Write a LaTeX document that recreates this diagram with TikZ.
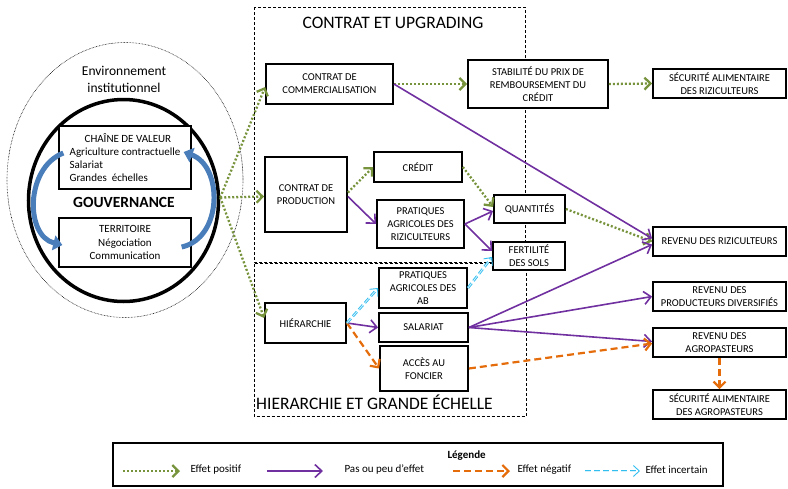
\documentclass[tikz,border=0pt]{standalone}
\usepackage{fontspec}
\setmainfont{Carlito}
\usetikzlibrary{shapes.geometric,arrows.meta}

\definecolor{vertpos}{RGB}{119,147,60}
\definecolor{violetneutre}{RGB}{112,48,160}
\definecolor{orangeneg}{RGB}{228,108,10}
\definecolor{bleuinc}{RGB}{51,190,240}
\definecolor{bleuboucle}{RGB}{74,126,187}

\newcommand{\boitefont}{\fontsize{10.5pt}{13pt}\selectfont}
\newcommand{\cadrefont}{\fontsize{11pt}{13.3pt}\selectfont}
\newcommand{\titrefont}{\fontsize{17.5pt}{20pt}\selectfont}
\newcommand{\gouvfont}{\fontsize{15.5pt}{18pt}\selectfont\bfseries}
\newcommand{\envfont}{\fontsize{13.5pt}{17pt}\selectfont}
\newcommand{\legfont}{\fontsize{11pt}{13pt}\selectfont}

\tikzset{
  boite/.style={draw, fill=white, line width=1.8pt, align=center, font=\boitefont, inner sep=1pt},
  cadre/.style={draw, fill=white, line width=1.3pt, align=center, font=\cadrefont, inner sep=2pt},
  zone/.style={line width=0.9pt, dash pattern=on 3pt off 2pt},
  positif/.style={draw=vertpos, line width=2.3pt, dash pattern=on 2pt off 2pt, -{Straight Barb[length=6pt,width=12pt]}},
  neutre/.style={draw=violetneutre, line width=1.6pt, -{Straight Barb[length=7pt,width=13pt]}},
  negatif/.style={draw=orangeneg, line width=2.2pt, dash pattern=on 7pt off 4pt, -{Straight Barb[length=6pt,width=12pt]}},
  incertain/.style={draw=bleuinc, double=bleuinc!20, double distance=0.8pt, line width=0.9pt, dash pattern=on 6pt off 3pt, -{Straight Barb[length=6pt,width=11pt]}},
  boucle/.style={draw=bleuboucle, line width=5pt, -{Triangle[length=9pt,width=15pt]}}
}

\begin{document}
\begin{tikzpicture}[x=1pt, y=-1pt]
\useasboundingbox (0,0) rectangle (788,488);

% gouvernance
\node[draw, ellipse, line width=0.6pt, dash pattern=on 0.6pt off 0.9pt, minimum width=236pt, minimum height=275pt] (env) at (125,180) {};
\node[font=\envfont, align=center] (envtxt) at (124,79) {Environnement\\institutionnel};
\node[draw, ellipse, line width=3.5pt, minimum width=190pt, minimum height=202pt] (cercle) at (123.5,200.5) {};
\node[cadre, minimum width=132pt, minimum height=61pt, align=left, inner sep=7pt] (chaine) at (125,157.5)
  {\hspace*{15pt}CHAÎNE DE VALEUR\\Agriculture contractuelle\\Salariat\\Grandes\ \ échelles};
\node[cadre, minimum width=132pt, minimum height=49pt] (terr) at (125,242.5) {TERRITOIRE\\Négociation\\Communication};
\node[font=\gouvfont] (gouv) at (124,202) {GOUVERNANCE};
\draw[boucle] ([xshift=5pt,yshift=4.5pt]chaine.west) .. controls (25,168) and (25,236) .. ([xshift=4pt,yshift=-2.5pt]terr.west);
\draw[boucle] ([xshift=-10pt,yshift=-4.5pt]terr.east) .. controls (223,238) and (223,166) .. ([xshift=-8pt,yshift=5.5pt]chaine.east);

% zones
\draw[zone] (254,7) rectangle (525,262);
\draw[zone] (254,263.5) rectangle (526,416);
\node[font=\titrefont] (titreA) at (393,23) {CONTRAT ET UPGRADING};
\node[font=\titrefont, anchor=west, inner sep=0pt] (titreB) at (256,402) {HIERARCHIE ET GRANDE ÉCHELLE};

% boites
\node[boite, minimum width=127pt, minimum height=40pt] (comm) at (329.5,84) {CONTRAT DE\\COMMERCIALISATION};
\node[boite, minimum width=82pt, minimum height=75pt] (prod) at (306,194.5) {CONTRAT DE\\PRODUCTION};
\node[boite, minimum width=88pt, minimum height=30pt] (credit) at (418,167) {CRÉDIT};
\node[boite, minimum width=87pt, minimum height=48pt] (pratriz) at (420.5,224) {PRATIQUES\\AGRICOLES DES\\RIZICULTEURS};
\node[boite, minimum width=71pt, minimum height=28pt] (quant) at (529.5,209) {QUANTITÉS};
\node[boite, minimum width=72pt, minimum height=28pt] (fert) at (529,256) {FERTILITÉ\\DES SOLS};
\node[boite, minimum width=140pt, minimum height=48pt] (stab) at (538,84) {STABILITÉ DU PRIX DE\\REMBOURSEMENT DU\\CRÉDIT};
\node[boite, minimum width=88pt, minimum height=40pt] (pratab) at (423,288) {PRATIQUES\\AGRICOLES DES\\AB};
\node[boite, minimum width=89pt, minimum height=29pt] (salariat) at (423.5,327.5) {SALARIAT};
\node[boite, minimum width=88pt, minimum height=45pt] (foncier) at (424,368.5) {ACCÈS AU\\FONCIER};
\node[boite, minimum width=81pt, minimum height=40pt] (hier) at (305.5,323) {HIÉRARCHIE};
\node[boite, minimum width=133pt, minimum height=29pt] (secriz) at (719.5,83.5) {SÉCURITÉ ALIMENTAIRE\\DES RIZICULTEURS};
\node[boite, minimum width=133pt, minimum height=29pt] (revriz) at (719.5,241.5) {REVENU DES RIZICULTEURS};
\node[boite, minimum width=133pt, minimum height=29pt] (revdiv) at (719.5,296.5) {REVENU DES\\PRODUCTEURS DIVERSIFIÉS};
\node[boite, minimum width=133pt, minimum height=29pt] (revagro) at (719.5,342.5) {REVENU DES\\AGROPASTEURS};
\node[boite, minimum width=133pt, minimum height=29pt] (secagro) at (719.5,404.5) {SÉCURITÉ ALIMENTAIRE\\DES AGROPASTEURS};

% effets
\draw[positif] ([yshift=3pt]cercle.east) -- ([yshift=-3pt]comm.west);
\draw[positif] ([yshift=3pt]cercle.east) -- ([yshift=-2pt]prod.west);
\draw[positif] ([yshift=3pt]cercle.east) -- ([yshift=5pt]hier.west);
\draw[positif] (comm.east) -- (stab.west);
\draw[positif] (stab.east) -- (secriz.west);
\draw[positif] ([yshift=2pt]prod.east) -- (credit.west);
\draw[positif] (credit.east) -- ([yshift=2pt]quant.west);
\draw[positif] (quant.east) -- (revriz.west);
\draw[neutre] (comm.east) -- ([yshift=3pt]revriz.west);
\draw[neutre] ([yshift=-2pt]prod.east) -- (pratriz.west);
\draw[neutre] (pratriz.east) -- ([yshift=-2pt]quant.west);
\draw[neutre] (pratriz.east) -- ([yshift=5pt]fert.west);
\draw[neutre] (hier.east) -- (salariat.west);
\draw[neutre] (salariat.east) -- ([yshift=-3pt]revriz.west);
\draw[neutre] (salariat.east) -- (revdiv.west);
\draw[neutre] (salariat.east) -- ([yshift=1pt]revagro.west);
\draw[negatif] (hier.east) -- (foncier.west);
\draw[negatif] (foncier.east) -- ([yshift=-1pt]revagro.west);
\draw[negatif] (revagro.south) -- (secagro.north);
\draw[incertain] (hier.east) -- (pratab.west);
\draw[incertain] (pratab.east) -- ([yshift=-1pt]fert.west);

% legende
\draw[line width=1.2pt] (113,443) rectangle (723,486);
\node[font=\legfont\bfseries, anchor=west] (leg) at (444,456) {Légende};
\foreach \st/\xa/\xb/\xt/\txt in {positif/123/180/187/Effet positif, neutre/267/323/341/Pas ou peu d’effet, negatif/453/510/514/Effet négatif, incertain/585/640/642/Effet incertain}{
  \coordinate (a\st) at (\xa,471);
  \coordinate (b\st) at (\xb,471);
  \draw[\st] (a\st) -- (b\st);
  \node[font=\legfont, anchor=west] (t\st) at (\xt,470) {\txt};
}
\end{tikzpicture}
\end{document}
